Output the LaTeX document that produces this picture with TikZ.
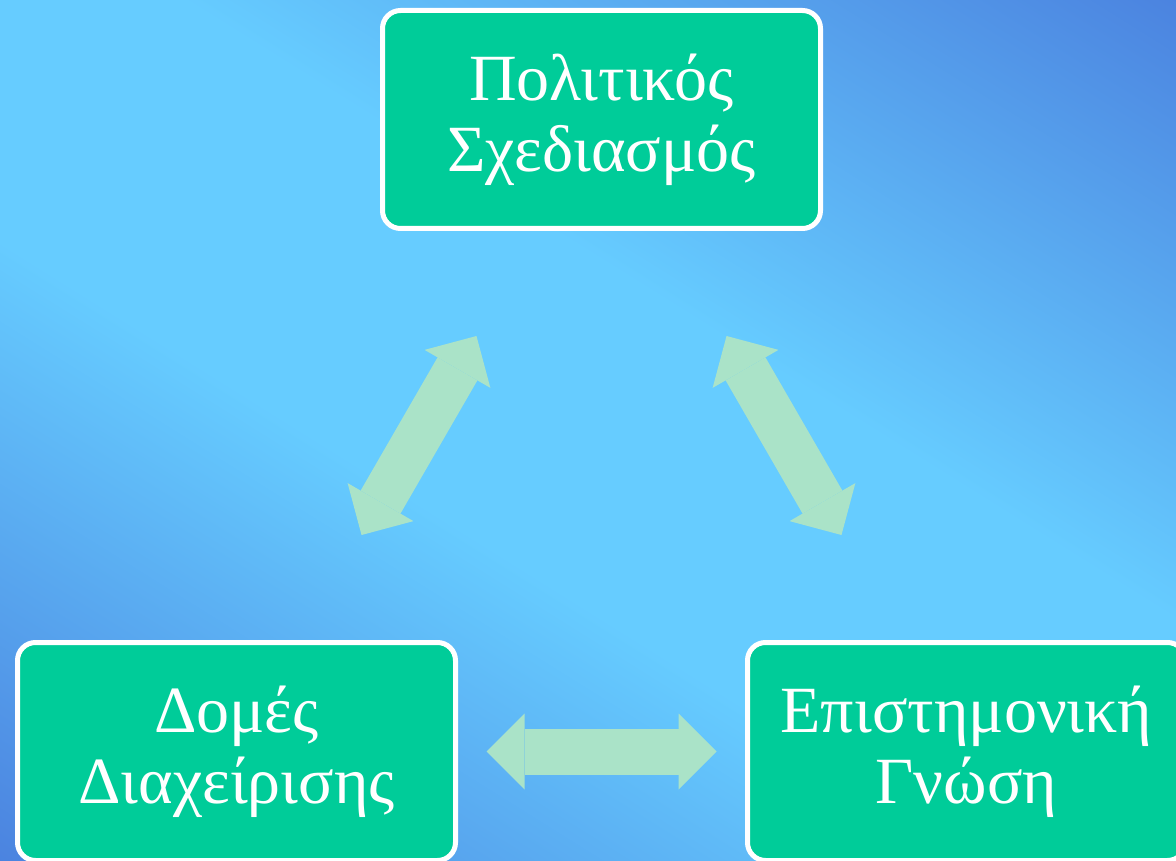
\documentclass[tikz,border=0pt]{standalone}
\usepackage{fontspec}
\setmainfont{Liberation Serif}
\usetikzlibrary{arrows.meta}

\definecolor{bglight}{HTML}{66CCFF}
\definecolor{bgdark}{HTML}{4A80DE}
\definecolor{boxgreen}{HTML}{00CC99}
\definecolor{linkgreen}{HTML}{AAE3C8}

\begin{document}
\begin{tikzpicture}[x=1pt, y=1pt,
    box/.style={draw=white, line width=5pt, fill=boxgreen, rounded corners=18pt,
        minimum width=438pt, minimum height=218pt, inner sep=0pt,
        text=white, align=center, font=\fontsize{66}{71}\selectfont},
    link/.style={draw=linkgreen, line width=46pt,
        {Triangle[width=76pt,length=38pt,line width=0pt]}-{Triangle[width=76pt,length=38pt,line width=0pt]},
        shorten <=250pt, shorten >=250pt}]

        \def\flat{150}  % half width of the light band
        \def\edge{700}  % where the corners turn dark
        % Background with the diagonal gradient
        \useasboundingbox (0,0) rectangle (1176,-861);
        \begin{scope}
            \clip (0,0) rectangle (1176,-861);
            \begin{scope}[transform canvas={shift={(588pt,-430.5pt)}, rotate=-32}]
                \shade[bottom color=bglight, top color=bgdark] (-1000,\flat) rectangle (1000,\edge);
                \shade[top color=bglight, bottom color=bgdark] (-1000,-\edge) rectangle (1000,-\flat);
                \fill[bglight] (-1000,-\flat-2) rectangle (1000,\flat+2);  % overlap hides the seams
            \end{scope}
        \end{scope}

        % The three boxes
        \node[box] (pol) at (601.5,-119.5) {Πολιτικός\\Σχεδιασμός};
        \node[box] (dom) at (236.5,-751.5) {Δομές\\Διαχείρισης};
        \node[box] (epi) at (966.5,-751.5) {Επιστημονική\\Γνώση};

        % Double arrows between them
        \draw[link] (pol.center) -- (dom.center);
        \draw[link] (pol.center) -- (epi.center);
        \draw[link] (dom.center) -- (epi.center);

\end{tikzpicture}
\end{document}
